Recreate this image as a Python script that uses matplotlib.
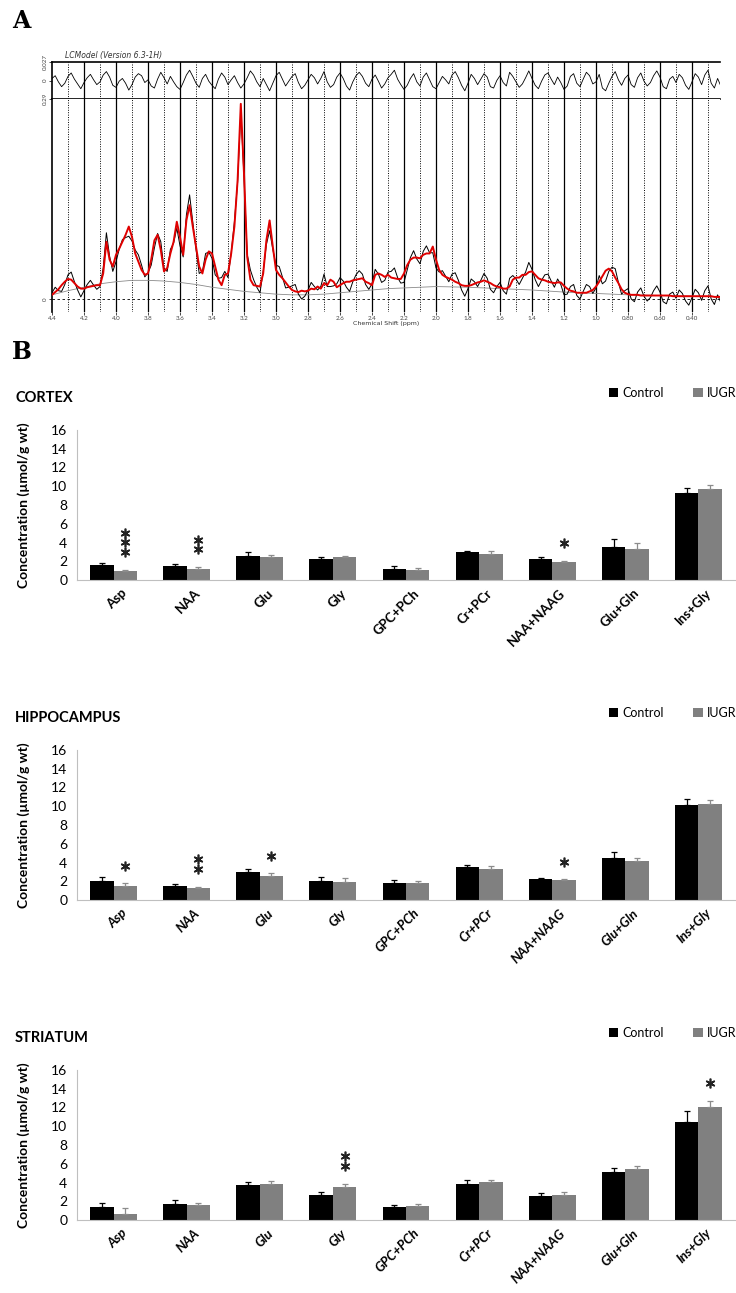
import numpy as np
import matplotlib.pyplot as plt
from matplotlib.patches import Patch
import matplotlib.transforms as mtransforms

plt.rcParams['font.family'] = ['Lato', 'DejaVu Sans']

# ---------------- panel A: LCModel spectrum ----------------
# fitted curve (red), read every 0.02 ppm from 4.40 down to 0.22
fit = [0.006, 0.010, 0.014, 0.020, 0.025, 0.029, 0.028, 0.023, 0.018, 0.015,
       0.015, 0.017, 0.018, 0.019, 0.020, 0.020, 0.037, 0.083, 0.057, 0.047,
       0.064, 0.073, 0.083, 0.093, 0.105, 0.090, 0.066, 0.054, 0.042, 0.035,
       0.037, 0.057, 0.085, 0.093, 0.071, 0.040, 0.045, 0.066, 0.083, 0.112,
       0.090, 0.064, 0.114, 0.136, 0.105, 0.076, 0.047, 0.037, 0.057, 0.069,
       0.066, 0.047, 0.028, 0.020, 0.035, 0.037, 0.066, 0.105, 0.172, 0.283,
       0.182, 0.061, 0.028, 0.020, 0.019, 0.018, 0.037, 0.085, 0.114, 0.076,
       0.042, 0.035, 0.030, 0.024, 0.018, 0.013, 0.011, 0.010, 0.012, 0.011,
       0.012, 0.015, 0.014, 0.018, 0.015, 0.023, 0.020, 0.028, 0.025, 0.017,
       0.020, 0.023, 0.025, 0.025, 0.027, 0.028, 0.029, 0.030, 0.025, 0.023,
       0.020, 0.035, 0.037, 0.035, 0.032, 0.035, 0.031, 0.030, 0.029, 0.029,
       0.037, 0.049, 0.057, 0.060, 0.060, 0.059, 0.064, 0.066, 0.066, 0.076,
       0.057, 0.042, 0.035, 0.032, 0.030, 0.028, 0.025, 0.023, 0.020, 0.019,
       0.019, 0.020, 0.022, 0.024, 0.025, 0.027, 0.025, 0.023, 0.020, 0.018,
       0.017, 0.015, 0.015, 0.018, 0.028, 0.031, 0.031, 0.035, 0.035, 0.039,
       0.040, 0.035, 0.030, 0.028, 0.027, 0.025, 0.024, 0.023, 0.024, 0.024,
       0.019, 0.015, 0.012, 0.011, 0.009, 0.009, 0.009, 0.009, 0.011, 0.013,
       0.018, 0.025, 0.033, 0.041, 0.044, 0.040, 0.031, 0.023, 0.014, 0.009,
       0.007, 0.006, 0.006, 0.006, 0.005, 0.005, 0.005, 0.005, 0.005, 0.005,
       0.005, 0.005, 0.005, 0.005, 0.004, 0.004, 0.004, 0.004, 0.004, 0.004,
       0.004, 0.004, 0.004, 0.004, 0.004, 0.004, 0.004, 0.003, 0.003, 0.003]

# residual (data - fit), in thousandths, same ppm grid
residual_milli = [
    3, 7, -2, -9, -4, 6, 11, 2, -5, -12, -3, 4, 9, 1, -6,
    -2, 8, 13, 5, -7, -10, -1, 3, -4, -14, -6, 5, 10, 7, -3,
    1, -8, -11, 2, 12, 4, -5, 6, -2, -9, -13, -3, 8, 15, 6,
    -4, -10, 3, 9, -1, -7, -12, 2, 11, 5, -6, 1, 7, -3, -11,
    -5, 4, 14, 8, -2, -9, 3, -6, -15, -4, 7, 12, 2, -8, -1,
    6, 10, -3, -12, -7, 1, 9, 4, -5, 3, 13, -2, -10, -6, 5,
    11, 3, -8, -14, -2, 7, 12, 6, -4, -9, 2, 8, -1, -11, -5,
    4, 9, 15, 2, -6, -13, -7, 3, 10, -2, -8, 5, 11, 1, -9,
    -12, -3, 6, 1, -5, 8, 13, 4, -7, -15, -4, 9, 3, -6, 2,
    10, 5, -9, -11, 0, 7, -3, -8, 12, 6, -2, -10, -5, 4, 14,
    3, -7, -12, -1, 8, 11, 2, -6, 5, -3, -13, -8, 6, 10, -4,
    -9, 2, 12, 7, -5, -2, 9, -11, -15, -4, 6, 13, 1, -7, 3,
    8, -6, -10, 4, 11, -1, -8, -3, 7, 14, 5, -9, -12, 2, 6,
    -3, 9, 4, -7, -13, -2, 10, 5, -6, 8, 15, -4, -11, 3, -8]

# smooth baseline (grey)
baseline_ppm = [4.40, 4.30, 4.20, 4.10, 4.00, 3.90, 3.80, 3.70, 3.60, 3.50,
                3.40, 3.30, 3.20, 3.10, 3.00, 2.90, 2.80, 2.70, 2.60, 2.50,
                2.40, 2.30, 2.20, 2.10, 2.00, 1.80, 1.60, 1.40, 1.20, 1.00,
                0.80, 0.60, 0.40, 0.22]
baseline_val = [0.006, 0.012, 0.017, 0.022, 0.025, 0.027, 0.027, 0.026, 0.024, 0.021,
                0.017, 0.014, 0.011, 0.009, 0.007, 0.006, 0.006, 0.007, 0.009, 0.011,
                0.013, 0.015, 0.016, 0.017, 0.018, 0.017, 0.015, 0.013, 0.010, 0.008,
                0.006, 0.005, 0.004, 0.003]

ppm_ticks = [4.4, 4.2, 4.0, 3.8, 3.6, 3.4, 3.2, 3.0, 2.8, 2.6, 2.4, 2.2, 2.0,
             1.8, 1.6, 1.4, 1.2, 1.0, 0.8, 0.6, 0.4]
ppm_labels = ['4.4', '4.2', '4.0', '3.8', '3.6', '3.4', '3.2', '3.0', '2.8', '2.6',
              '2.4', '2.2', '2.0', '1.8', '1.6', '1.4', '1.2', '1.0', '0.80', '0.60', '0.40']

# ---------------- panel B: concentrations ----------------
metabolites = ['Asp', 'NAA', 'Glu', 'Gly', 'GPC+PCh', 'Cr+PCr', 'NAA+NAAG', 'Glu+Gln', 'Ins+Gly']

cortex_control = [1.64, 1.53, 2.60, 2.20, 1.14, 3.02, 2.24, 3.49, 9.32]
cortex_control_err = [0.20, 0.15, 0.40, 0.25, 0.35, 0.12, 0.20, 0.85, 0.50]
cortex_iugr = [0.96, 1.17, 2.42, 2.42, 1.07, 2.74, 1.92, 3.35, 9.75]
cortex_iugr_err = [0.10, 0.20, 0.25, 0.15, 0.20, 0.40, 0.10, 0.60, 0.35]
cortex_stars = [3, 2, 0, 0, 0, 0, 1, 0, 0]

hippo_control = [2.03, 1.53, 2.95, 2.03, 1.85, 3.49, 2.28, 4.52, 10.10]
hippo_control_err = [0.40, 0.15, 0.40, 0.40, 0.28, 0.25, 0.10, 0.57, 0.68]
hippo_iugr = [1.53, 1.32, 2.56, 1.92, 1.78, 3.35, 2.10, 4.16, 10.25]
hippo_iugr_err = [0.25, 0.07, 0.28, 0.40, 0.25, 0.25, 0.10, 0.32, 0.40]
hippo_stars = [1, 2, 1, 0, 0, 0, 1, 0, 0]

striatum_control = [1.42, 1.71, 3.74, 2.67, 1.35, 3.88, 2.56, 5.12, 10.50]
striatum_control_err = [0.36, 0.40, 0.35, 0.30, 0.28, 0.35, 0.35, 0.40, 1.14]
striatum_iugr = [0.68, 1.64, 3.81, 3.56, 1.46, 4.02, 2.63, 5.44, 12.03]
striatum_iugr_err = [0.60, 0.20, 0.35, 0.32, 0.20, 0.28, 0.35, 0.28, 0.64]
striatum_stars = [0, 0, 0, 2, 0, 0, 0, 0, 1]

W, H = 736, 1293
fig = plt.figure(figsize=(W / 100, H / 100), dpi=100)


def box(x0, y0, x1, y1):
    # pixel box (top-left origin) -> figure fraction rect
    return [x0 / W, 1 - y1 / H, (x1 - x0) / W, (y1 - y0) / H]


fig.text(12 / W, 1 - 21 / H, 'A', family='DejaVu Serif', fontweight='bold', fontsize=17, va='center')
fig.text(12 / W, 1 - 352 / H, 'B', family='DejaVu Serif', fontweight='bold', fontsize=17, va='center')

axr = fig.add_axes(box(52, 62, 720, 99))
axm = fig.add_axes(box(52, 99, 720, 312))

ppm = np.linspace(4.40, 0.22, len(fit))
fit_arr = np.array(fit)
res_arr = np.array(residual_milli) / 1000.0
data = fit_arr + res_arr

for ax in (axr, axm):
    ax.set_xlim(4.4, 0.225)
    for t in ppm_ticks[1:]:
        ax.axvline(t, color='black', lw=0.9, zorder=1)
    for t in ppm_ticks:
        ax.axvline(t - 0.1, color='black', lw=0.7, ls=(0, (1, 1.5)), zorder=1)
    ax.spines['right'].set_visible(False)
    ax.tick_params(axis='y', labelsize=4.5, length=2, width=0.5, pad=1, labelcolor='#444444')

axr.plot(ppm, res_arr, color='black', lw=0.6, zorder=3)
axr.set_ylim(-0.027, 0.027)
axr.set_yticks([0, 0.027])
axr.set_yticklabels(['0', '0.027'], rotation=90, va='center')
axr.set_xticks([])
axr.spines['top'].set_linewidth(1.2)
axr.spines['bottom'].set_linewidth(1.2)
axr.spines['left'].set_linewidth(1.2)
axr.text(0.02, 1.18, 'LCModel (Version 6.3-1H)', transform=axr.transAxes,
         fontsize=5.5, style='italic', family='DejaVu Sans', color='#333333', va='center')

axm.plot(baseline_ppm, baseline_val, color='#8a8a8a', lw=0.6, zorder=2)
axm.axhline(0, color='black', lw=0.6, ls=(0, (3, 3)), zorder=2)
axm.plot(ppm, data, color='black', lw=0.7, zorder=3)
axm.plot(ppm, fit_arr, color='#e00000', lw=1.4, zorder=4)
axm.set_ylim(-0.0189, 0.29)
axm.set_yticks([0, 0.29])
axm.set_yticklabels(['0', '0.29'], rotation=90, va='center')
axm.set_xticks(ppm_ticks)
axm.set_xticklabels(ppm_labels)
axm.tick_params(axis='x', labelsize=4.5, length=2, width=0.5, pad=1, labelcolor='#444444')
axm.spines['top'].set_visible(False)
axm.spines['bottom'].set_visible(False)
axm.spines['left'].set_linewidth(1.2)
axm.set_xlabel('Chemical Shift (ppm)', fontsize=4.5, family='DejaVu Sans', labelpad=0, color='#333333')

# ---------------- bar panels ----------------
regions = [
    ('CORTEX', cortex_control, cortex_control_err, cortex_iugr, cortex_iugr_err, cortex_stars, 'normal', (430, 580)),
    ('HIPPOCAMPUS', hippo_control, hippo_control_err, hippo_iugr, hippo_iugr_err, hippo_stars, 'italic', (750, 900)),
    ('STRIATUM', striatum_control, striatum_control_err, striatum_iugr, striatum_iugr_err, striatum_stars, 'italic', (1070, 1220)),
]

bw = 0.32
grey = '#808080'
for title, ctrl, ctrl_err, iugr, iugr_err, stars, lstyle, (ytop, ybot) in regions:
    ax = fig.add_axes(box(77, ytop, 735, ybot))
    x = np.arange(len(metabolites))
    zeros = np.zeros(len(x))
    ax.bar(x - bw / 2, ctrl, bw, color='black', zorder=2,
           yerr=[zeros, ctrl_err], error_kw=dict(ecolor='black', elinewidth=0.9, capsize=2.5, capthick=0.9))
    ax.bar(x + bw / 2, iugr, bw, color=grey, zorder=2,
           yerr=[zeros, iugr_err], error_kw=dict(ecolor='#8c8c8c', elinewidth=0.9, capsize=2.5, capthick=0.9))
    for i, n in enumerate(stars):
        top = iugr[i] + iugr_err[i]
        for k in range(n):
            ax.plot(i + bw / 2, top + 1.9 + k * 1.05, marker=(6, 2, 0), ms=7, mew=1.2,
                    color='#222222', zorder=3)
    ax.set_xlim(-0.5, 8.5)
    ax.set_ylim(0, 16)
    ax.set_yticks(range(0, 17, 2))
    ax.tick_params(axis='y', length=0, pad=7, labelsize=10)
    ax.tick_params(axis='x', length=0, pad=5)
    ax.set_xticks(x)
    ax.set_xticklabels(metabolites, rotation=45, ha='right', rotation_mode='anchor',
                       fontsize=9.5, fontweight='bold', style=lstyle)
    shift = mtransforms.ScaledTranslation(7 / 100, 0, fig.dpi_scale_trans)
    for lab in ax.get_xticklabels():
        lab.set_transform(lab.get_transform() + shift)
    for s in ('top', 'right'):
        ax.spines[s].set_visible(False)
    ax.spines['left'].set_color('#bfbfbf')
    ax.spines['bottom'].set_color('#bfbfbf')
    ax.set_ylabel('Concentration (µmol/g wt)', fontsize=10, fontweight='bold')
    ax.yaxis.set_label_coords(-0.071, 0.5)
    ax.text(-0.094, 1.215, title, transform=ax.transAxes, fontsize=10.5, fontweight='bold',
            ha='left', va='center')
    handles = [Patch(facecolor='black'), Patch(facecolor=grey)]
    ax.legend(handles, ['Control', 'IUGR'], loc='center', bbox_to_anchor=(0.905, 1.245), ncol=2,
              frameon=False, handlelength=0.75, handleheight=0.75, handletextpad=0.3,
              columnspacing=2.4, fontsize=9)

fig.savefig('out.png', dpi=100)
